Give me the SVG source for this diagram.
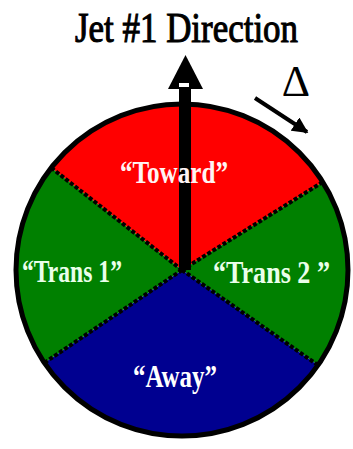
<svg xmlns="http://www.w3.org/2000/svg" width="353" height="449" viewBox="0 0 353 449">
<defs>
<style>
.lbl{font-family:"Liberation Serif","Times New Roman",serif;font-weight:bold;font-size:31px;}
.div{stroke:#000;stroke-width:4;stroke-dasharray:4 2;fill:none;}
</style>
<marker id="ah" viewBox="0 0 10 10" refX="9" refY="5" markerWidth="4" markerHeight="4" orient="auto" markerUnits="strokeWidth">
<path d="M0,0 L10,5 L0,10 Z" fill="#000"/>
</marker>
</defs>
<rect width="353" height="449" fill="#fff"/>
<g id="toward">
<path d="M182,270 L51.2,167.8 A166,166 0 0 1 322.8,182 Z" fill="#ff0000"/>
</g>
<g id="trans2">
<path d="M182,270 L322.8,182 A166,166 0 0 1 318,365.2 Z" fill="#008000"/>
</g>
<g id="away">
<path d="M182,270 L318,365.2 A166,166 0 0 1 44.4,362.8 Z" fill="#000090"/>
</g>
<g id="trans1">
<path d="M182,270 L44.4,362.8 A166,166 0 0 1 51.2,167.8 Z" fill="#008000"/>
</g>
<g id="dividers">
<line class="div" x1="182" y1="270" x2="51.2" y2="167.8"/>
<line class="div" x1="182" y1="270" x2="322.8" y2="182"/>
<line class="div" x1="182" y1="270" x2="318" y2="365.2"/>
<line class="div" x1="182" y1="270" x2="44.4" y2="362.8"/>
</g>
<circle id="rim" cx="182" cy="270" r="166" fill="none" stroke="#000" stroke-width="5"/>
<g id="connectors">
<rect x="179" y="86" width="12" height="184" fill="#000"/>
<polygon points="185.5,55 168,89 203,89" fill="#000"/>
<rect x="179" y="83" width="10" height="4" fill="#fff"/>
<line x1="255" y1="98" x2="307" y2="132" stroke="#000" stroke-width="4" marker-end="url(#ah)"/>
</g>
<g id="labels">
<text x="75" y="42" font-family="Liberation Serif,'Times New Roman',serif" font-size="42" textLength="223" lengthAdjust="spacingAndGlyphs" fill="#000" stroke="#000" stroke-width="1.1">Jet #1 Direction</text>
<text x="296" y="96" font-family="Liberation Serif,'Times New Roman',serif" font-size="44" text-anchor="middle" fill="#000">Δ</text>
<text class="lbl" x="120" y="183" textLength="108" lengthAdjust="spacingAndGlyphs" fill="#fff4f4">“Toward”</text>
<text class="lbl" x="22" y="282" textLength="100" lengthAdjust="spacingAndGlyphs" fill="#eaffea">“Trans 1”</text>
<text class="lbl" x="213" y="283" textLength="117" lengthAdjust="spacingAndGlyphs" fill="#eaffea">“Trans 2 ”</text>
<text class="lbl" x="133" y="387" textLength="84" lengthAdjust="spacingAndGlyphs" fill="#ffffff">“Away”</text>
</g>
</svg>
